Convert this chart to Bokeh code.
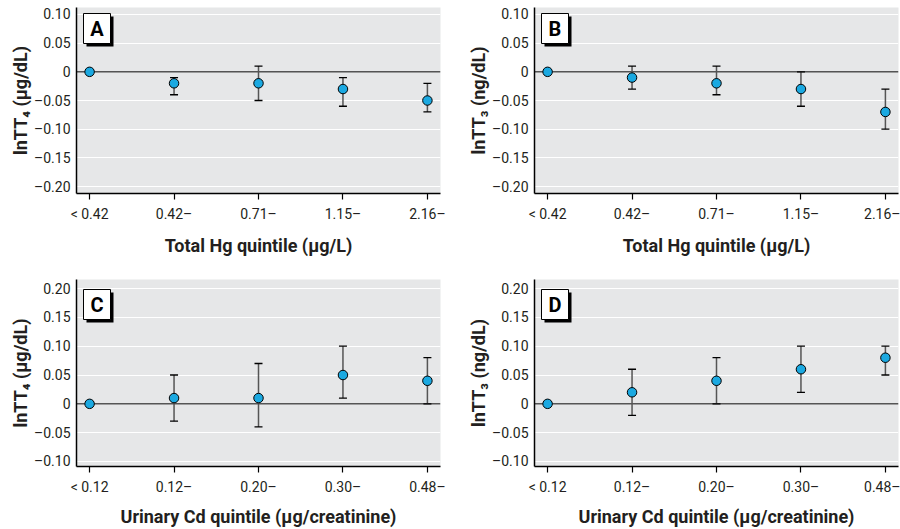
from bokeh.plotting import figure
from bokeh.models import (ColumnDataSource, Whisker, TeeHead, Span, FixedTicker,
                          BoxAnnotation, Label, Range1d)
from bokeh.layouts import gridplot
from bokeh.embed import file_html
from bokeh.resources import INLINE

# ---------------- data ----------------
hg_categories = ["< 0.42", "0.42\u2013", "0.71\u2013", "1.15\u2013", "2.16\u2013"]
cd_categories = ["< 0.12", "0.12\u2013", "0.20\u2013", "0.30\u2013", "0.48\u2013"]

a_est = [0.0, -0.02, -0.02, -0.03, -0.05]
a_low = [None, -0.04, -0.05, -0.06, -0.07]
a_up = [None, -0.01, 0.01, -0.01, -0.02]

b_est = [0.0, -0.01, -0.02, -0.03, -0.07]
b_low = [None, -0.03, -0.04, -0.06, -0.10]
b_up = [None, 0.01, 0.01, 0.00, -0.03]

c_est = [0.0, 0.01, 0.01, 0.05, 0.04]
c_low = [None, -0.03, -0.04, 0.01, 0.00]
c_up = [None, 0.05, 0.07, 0.10, 0.08]

d_est = [0.0, 0.02, 0.04, 0.06, 0.08]
d_low = [None, -0.02, 0.00, 0.02, 0.05]
d_up = [None, 0.06, 0.08, 0.10, 0.10]

hg_yticks = [-0.20, -0.15, -0.10, -0.05, 0.0, 0.05, 0.10]
hg_ytick_labels = ["\u20130.20", "\u20130.15", "\u20130.10", "\u20130.05", "0", "0.05", "0.10"]
cd_yticks = [-0.10, -0.05, 0.0, 0.05, 0.10, 0.15, 0.20]
cd_ytick_labels = ["\u20130.10", "\u20130.05", "0", "0.05", "0.10", "0.15", "0.20"]

t4_label = "lnTT\u2084 (\u00b5g/dL)"
t3_label = "lnTT\u2083 (ng/dL)"
hg_xlabel = "Total Hg quintile (\u00b5g/L)"
cd_xlabel = "Urinary Cd quintile (\u00b5g/creatinine)"

FONT = "Roboto"


def panel(letter, cats, est, low, up, yticks, ylabels, yrange, ylab, xlab,
          width, height, bl, br, bt, bb, zero_color, zero_w, box_gap, label_std):
    n = len(cats)
    p = figure(width=width, height=height, output_backend="svg", toolbar_location=None,
               x_range=Range1d(-0.155, n - 1 + 0.155), y_range=Range1d(*yrange),
               min_border_left=bl, min_border_right=br, min_border_top=bt,
               min_border_bottom=bb)
    p.background_fill_color = "#E6E7E8"
    p.border_fill_color = "white"
    p.outline_line_color = None
    p.xgrid.grid_line_color = None
    p.ygrid.grid_line_color = "white"
    p.ygrid.grid_line_width = 1.2

    p.yaxis.ticker = FixedTicker(ticks=yticks)
    p.yaxis.major_label_overrides = {t: l for t, l in zip(yticks, ylabels)}
    p.xaxis.ticker = FixedTicker(ticks=list(range(n)))
    p.xaxis.major_label_overrides = {i: c for i, c in enumerate(cats)}

    for ax in (p.xaxis[0], p.yaxis[0]):
        ax.axis_line_color = "black"
        ax.axis_line_width = 1.5
        ax.major_tick_line_color = "black"
        ax.major_tick_line_width = 1.2
        ax.major_tick_in = 0
        ax.minor_tick_in = 0
        ax.minor_tick_out = 0
        ax.major_label_text_font = FONT
        ax.major_label_text_font_size = "14px"
        ax.major_label_text_color = "#231F20"
        ax.axis_label_text_font = FONT
        ax.axis_label_text_font_style = "bold"
        ax.axis_label_text_font_size = "18px"
        ax.axis_label_text_color = "#231F20"
    p.xaxis.major_tick_out = 6
    p.xaxis.major_label_standoff = 6
    p.xaxis.axis_label_standoff = label_std
    p.yaxis.major_tick_out = 0
    p.yaxis.major_label_standoff = 6
    p.yaxis.axis_label_standoff = 0
    p.xaxis.axis_label = xlab
    p.yaxis.axis_label = ylab

    p.add_layout(Span(location=0, dimension="width", line_color=zero_color,
                      line_width=zero_w, level="underlay"))

    idx = [i for i in range(n) if low[i] is not None]
    src = ColumnDataSource(dict(x=idx, lower=[low[i] for i in idx],
                                upper=[up[i] for i in idx]))
    p.add_layout(Whisker(source=src, base="x", lower="lower", upper="upper",
                         dimension="height", line_color="#555555", line_width=1.5,
                         upper_head=TeeHead(size=8, line_color="black", line_width=1.3),
                         lower_head=TeeHead(size=8, line_color="black", line_width=1.3)))

    p.scatter(list(range(n)), est, size=9.5, fill_color="#1BA9E1",
              line_color="black", line_width=1)

    fh = height - bt - bb
    top = fh - box_gap
    p.add_layout(BoxAnnotation(left=10, right=37, top=top - 3, bottom=top - 33,
                               left_units="screen", right_units="screen",
                               top_units="screen", bottom_units="screen",
                               fill_color="black", fill_alpha=1, line_color=None,
                               level="overlay"))
    p.add_layout(BoxAnnotation(left=7, right=34, top=top, bottom=top - 30,
                               left_units="screen", right_units="screen",
                               top_units="screen", bottom_units="screen",
                               fill_color="white", fill_alpha=1, line_color="black",
                               line_alpha=1, line_width=1, level="overlay"))
    p.add_layout(Label(x=20.5, y=top - 15, x_units="screen", y_units="screen",
                       text=letter, text_align="center", text_baseline="middle",
                       text_font=FONT, text_font_style="bold", text_font_size="20px",
                       text_color="black", level="overlay"))
    return p


top_range = (-0.2122, 0.1122)
bot_range = (-0.1087, 0.2157)

pa = panel("A", hg_categories, a_est, a_low, a_up, hg_yticks, hg_ytick_labels, top_range,
           t4_label, hg_xlabel, 450, 270, 76, 10, 7, 77, "black", 1, 6, 10)
pb = panel("B", hg_categories, b_est, b_low, b_up, hg_yticks, hg_ytick_labels, top_range,
           t3_label, hg_xlabel, 450, 270, 84, 2, 7, 77, "black", 1, 6, 10)
pc = panel("C", cd_categories, c_est, c_low, c_up, cd_yticks, cd_ytick_labels, bot_range,
           t4_label, cd_xlabel, 450, 259, 76, 10, 9, 63, "#555555", 1.5, 10, 8)
pd_ = panel("D", cd_categories, d_est, d_low, d_up, cd_yticks, cd_ytick_labels, bot_range,
            t3_label, cd_xlabel, 450, 259, 84, 2, 9, 63, "#555555", 1.5, 10, 8)

grid = gridplot([[pa, pb], [pc, pd_]], toolbar_location=None)

with open("out.html", "w") as f:
    f.write(file_html(grid, INLINE))
